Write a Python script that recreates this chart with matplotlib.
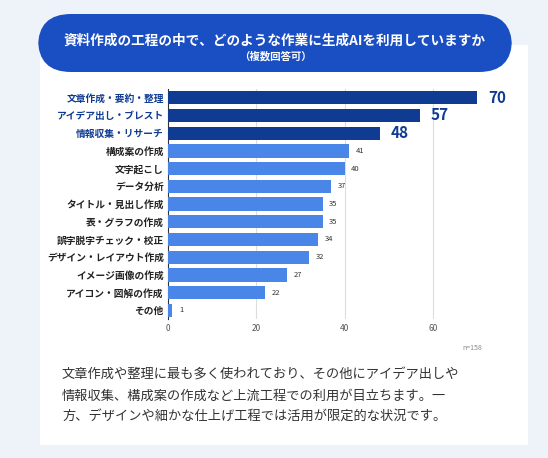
import matplotlib.pyplot as plt
from matplotlib.patches import FancyBboxPatch

plt.rcParams['font.family'] = ['Noto Sans CJK JP', 'DejaVu Sans']

labels = ['文章作成・要約・整理', 'アイデア出し・ブレスト', '情報収集・リサーチ', '構成案の作成',
          '文字起こし', 'データ分析', 'タイトル・見出し作成', '表・グラフの作成',
          '誤字脱字チェック・校正', 'デザイン・レイアウト作成', 'イメージ画像の作成',
          'アイコン・図解の作成', 'その他']
values = [70, 57, 48, 41, 40, 37, 35, 35, 34, 32, 27, 22, 1]
xticks = [0, 20, 40, 60]

dark = '#0f3b93'
light = '#4a86e8'

fig = plt.figure(figsize=(5.48, 4.58), dpi=100)
fig.patch.set_facecolor('#eef3fa')

card = FancyBboxPatch((40/548, 13/458), 488/548, 400/458, boxstyle='square,pad=0',
                      transform=fig.transFigure, facecolor='white', edgecolor='none',
                      zorder=-2)
fig.patches.append(card)
pill = FancyBboxPatch((38/548, 386/458), 474/548, 58/458,
                      boxstyle='round,pad=0,rounding_size=0.06',
                      transform=fig.transFigure, facecolor='#1a4fc4', edgecolor='none',
                      mutation_aspect=548/458, zorder=-1)
fig.patches.append(pill)
fig.text(275/548, 0.912, '資料作成の工程の中で、どのような作業に生成AIを利用していますか',
         ha='center', va='center', color='white', fontsize=9.8, fontweight='bold')
fig.text(275/548, 0.876, '（複数回答可）', ha='center', va='center', color='white',
         fontsize=7.5, fontweight='bold')

ax = fig.add_axes([168/548, 0.303, 318/548, 0.503])
ax.set_facecolor('white')
y = list(range(len(labels)))
colors = [dark if i < 3 else light for i in range(len(labels))]
ax.barh(y, values, height=0.75, color=colors, zorder=3)
for i, v in enumerate(values):
    if i < 3:
        ax.text(v + 2.5, i, str(v), va='center', ha='left', fontsize=11,
                fontweight='bold', color=dark)
    else:
        ax.text(v + 1.5, i, str(v), va='center', ha='left', fontsize=5.5, color='#333333')
ax.set_ylim(len(labels) - 0.5, -0.5)
ax.set_xlim(0, 72)
ax.set_yticks(y)
ax.set_yticklabels(labels, fontsize=7, fontweight='bold')
for i, t in enumerate(ax.get_yticklabels()):
    t.set_color(dark if i < 3 else '#222222')
ax.set_xticks(xticks)
ax.tick_params(axis='x', labelsize=6, colors='#555555', length=0)
ax.tick_params(axis='y', length=0, pad=3)
ax.grid(axis='x', color='#dddddd', lw=0.8, zorder=0)
for s in ['top', 'right', 'bottom']:
    ax.spines[s].set_visible(False)
ax.spines['left'].set_color('#333333')
ax.spines['left'].set_linewidth(0.8)

fig.text(482/548, 1 - 348/458, 'n=158', ha='right', va='center', fontsize=5, color='#888888')
body = ('文章作成や整理に最も多く使われており、その他にアイデア出しや\n'
        '情報収集、構成案の作成など上流工程での利用が目立ちます。一\n'
        '方、デザインや細かな仕上げ工程では活用が限定的な状況です。')
fig.text(62/548, 1 - 396/458, body, ha='left', va='center', fontsize=9.5,
         color='#333333', linespacing=1.75)

fig.savefig('out.png', dpi=100, facecolor=fig.get_facecolor())
